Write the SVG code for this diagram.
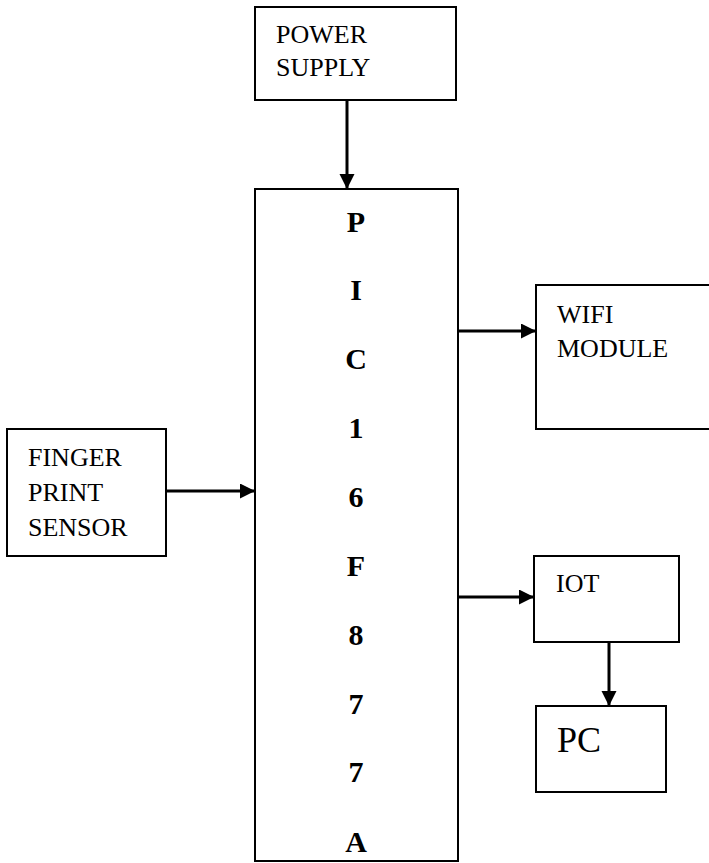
<svg xmlns="http://www.w3.org/2000/svg" width="709" height="863" viewBox="0 0 709 863">
<style>
.box{fill:#fff;stroke:#000;stroke-width:2}
.t{font-family:"Liberation Serif","Times New Roman",serif;font-size:26px;fill:#000}
.pc{font-family:"Liberation Serif","Times New Roman",serif;font-size:36px;fill:#000}
.b{font-family:"Liberation Serif","Times New Roman",serif;font-size:30px;font-weight:bold;fill:#000;text-anchor:middle}
.c{stroke:#000;stroke-width:3;fill:none;marker-end:url(#ah)}
</style>
<defs>
<marker id="ah" markerUnits="userSpaceOnUse" markerWidth="16" markerHeight="16" refX="15" refY="7.5" orient="auto">
<path d="M0,0 L15,7.5 L0,15 Z" fill="#000"/>
</marker>
</defs>
<rect width="709" height="863" fill="#fff"/>
<g id="power">
<rect class="box" x="255" y="7" width="201" height="93"/>
<text class="t" x="276" y="43">POWER</text>
<text class="t" x="276" y="76">SUPPLY</text>
</g>
<g id="pic">
<rect class="box" x="255" y="189" width="203" height="672"/>
<text class="b" x="356" y="232">P</text>
<text class="b" x="356" y="300">I</text>
<text class="b" x="356" y="369">C</text>
<text class="b" x="356" y="438">1</text>
<text class="b" x="356" y="507">6</text>
<text class="b" x="356" y="576">F</text>
<text class="b" x="356" y="645">8</text>
<text class="b" x="356" y="714">7</text>
<text class="b" x="356" y="782">7</text>
<text class="b" x="356" y="852">A</text>
</g>
<g id="finger">
<rect class="box" x="7" y="429" width="159" height="127"/>
<text class="t" x="28" y="466">FINGER</text>
<text class="t" x="28" y="501">PRINT</text>
<text class="t" x="28" y="536">SENSOR</text>
</g>
<g id="wifi">
<rect class="box" x="536" y="285" width="180" height="144"/>
<text class="t" x="557" y="323">WIFI</text>
<text class="t" x="557" y="357">MODULE</text>
</g>
<g id="iot">
<rect class="box" x="534" y="556" width="145" height="86"/>
<text class="t" x="556" y="592">IOT</text>
</g>
<g id="pc">
<rect class="box" x="536" y="706" width="130" height="86"/>
<text class="pc" x="557" y="752">PC</text>
</g>
<g id="connectors">
<line class="c" x1="347" y1="100" x2="347" y2="189"/>
<line class="c" x1="166" y1="491" x2="255" y2="491"/>
<line class="c" x1="458" y1="331" x2="536" y2="331"/>
<line class="c" x1="458" y1="597" x2="534" y2="597"/>
<line class="c" x1="609" y1="642" x2="609" y2="706"/>
</g>
</svg>
